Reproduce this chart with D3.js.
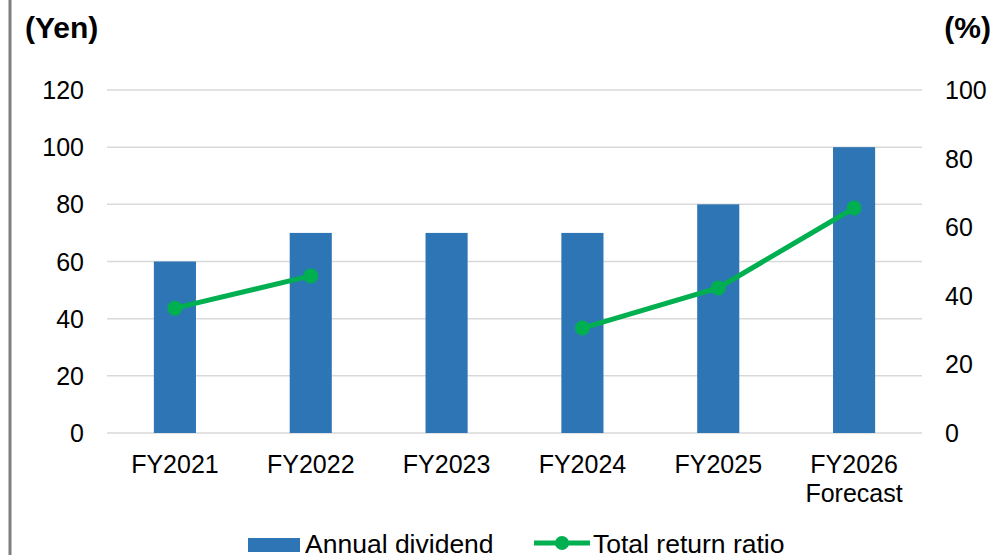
<head>
<meta charset="utf-8">
<style> body { margin: 0; background: #fff; } text { font-family: "Liberation Sans", Arial, sans-serif; fill: #000; } </style>
<script src="https://d3js.org/d3.v7.min.js"></script>
</head>
<body>
<div id="chart"></div>
<script>
const categories = ["FY2021", "FY2022", "FY2023", "FY2024", "FY2025", "FY2026\nForecast"];
const dividend = [60, 70, 70, 70, 80, 100];
const returnRatio = [36.4, 45.8, null, 30.6, 42.3, 65.6];
const yenTicks = [0, 20, 40, 60, 80, 100, 120];
const pctTicks = [0, 20, 40, 60, 80, 100];

const width = 998, height = 555;
const plotL = 107, plotR = 922, plotT = 90, plotB = 433;

const svg = d3.select("#chart").append("svg")
    .attr("width", width).attr("height", height);

// left frame line
svg.append("line").attr("x1", 10).attr("x2", 10).attr("y1", 0).attr("y2", height)
    .attr("stroke", "#7f7f7f").attr("stroke-width", 3);

const x = d3.scaleBand().domain(categories).range([plotL, plotR]).paddingInner(0.69).paddingOuter(0.345);
const yL = d3.scaleLinear().domain([0, 120]).range([plotB, plotT]);
const yR = d3.scaleLinear().domain([0, 100]).range([plotB, plotT]);

// gridlines
svg.append("g").selectAll("line").data(yenTicks).join("line")
    .attr("x1", plotL).attr("x2", plotR)
    .attr("y1", d => yL(d)).attr("y2", d => yL(d))
    .attr("stroke", "#d9d9d9").attr("stroke-width", 1.5);

// left axis labels
svg.append("g").selectAll("text").data(yenTicks).join("text")
    .attr("x", 84).attr("y", d => yL(d) + 9)
    .attr("text-anchor", "end").attr("font-size", 25)
    .text(d => d);

// right axis labels
svg.append("g").selectAll("text").data(pctTicks).join("text")
    .attr("x", 945).attr("y", d => yR(d) + 9)
    .attr("font-size", 25)
    .text(d => d);

// bars
svg.append("g").selectAll("rect").data(dividend).join("rect")
    .attr("x", (d, i) => x(categories[i]))
    .attr("y", d => yL(d))
    .attr("width", x.bandwidth())
    .attr("height", d => plotB - yL(d))
    .attr("fill", "#2e75b6");

// category labels
const cat = svg.append("g").selectAll("text").data(categories).join("text")
    .attr("x", d => x(d) + x.bandwidth() / 2)
    .attr("y", 473)
    .attr("text-anchor", "middle").attr("font-size", 25);
cat.each(function(d) {
    const parts = d.split("\n");
    const t = d3.select(this);
    parts.forEach((p, j) => {
        t.append("tspan").attr("x", x(d) + x.bandwidth() / 2).attr("dy", j ? 29 : 0).text(p);
    });
});

// line
const pts = returnRatio.map((v, i) => ({ c: categories[i], v }));
const line = d3.line()
    .defined(d => d.v !== null)
    .x(d => x(d.c) + x.bandwidth() / 2)
    .y(d => yR(d.v));
svg.append("path").datum(pts)
    .attr("d", line).attr("fill", "none")
    .attr("stroke", "#00b050").attr("stroke-width", 5);
svg.append("g").selectAll("circle").data(pts.filter(d => d.v !== null)).join("circle")
    .attr("cx", d => x(d.c) + x.bandwidth() / 2)
    .attr("cy", d => yR(d.v))
    .attr("r", 7.5).attr("fill", "#00b050");

// axis titles
svg.append("text").attr("x", 25).attr("y", 38).attr("font-size", 30).attr("font-weight", "bold").text("(Yen)");
svg.append("text").attr("x", 991).attr("y", 38).attr("text-anchor", "end").attr("font-size", 30).attr("font-weight", "bold").text("(%)");

// legend
const lg = svg.append("g");
lg.append("rect").attr("x", 248).attr("y", 538).attr("width", 52).attr("height", 14).attr("fill", "#2e75b6");
lg.append("text").attr("x", 305).attr("y", 553).attr("font-size", 26.5).text("Annual dividend");
lg.append("line").attr("x1", 534).attr("x2", 590).attr("y1", 543).attr("y2", 543)
    .attr("stroke", "#00b050").attr("stroke-width", 5);
lg.append("circle").attr("cx", 562).attr("cy", 543).attr("r", 7).attr("fill", "#00b050");
lg.append("text").attr("x", 593).attr("y", 553).attr("font-size", 26.5).text("Total return ratio");
</script>
</body>
